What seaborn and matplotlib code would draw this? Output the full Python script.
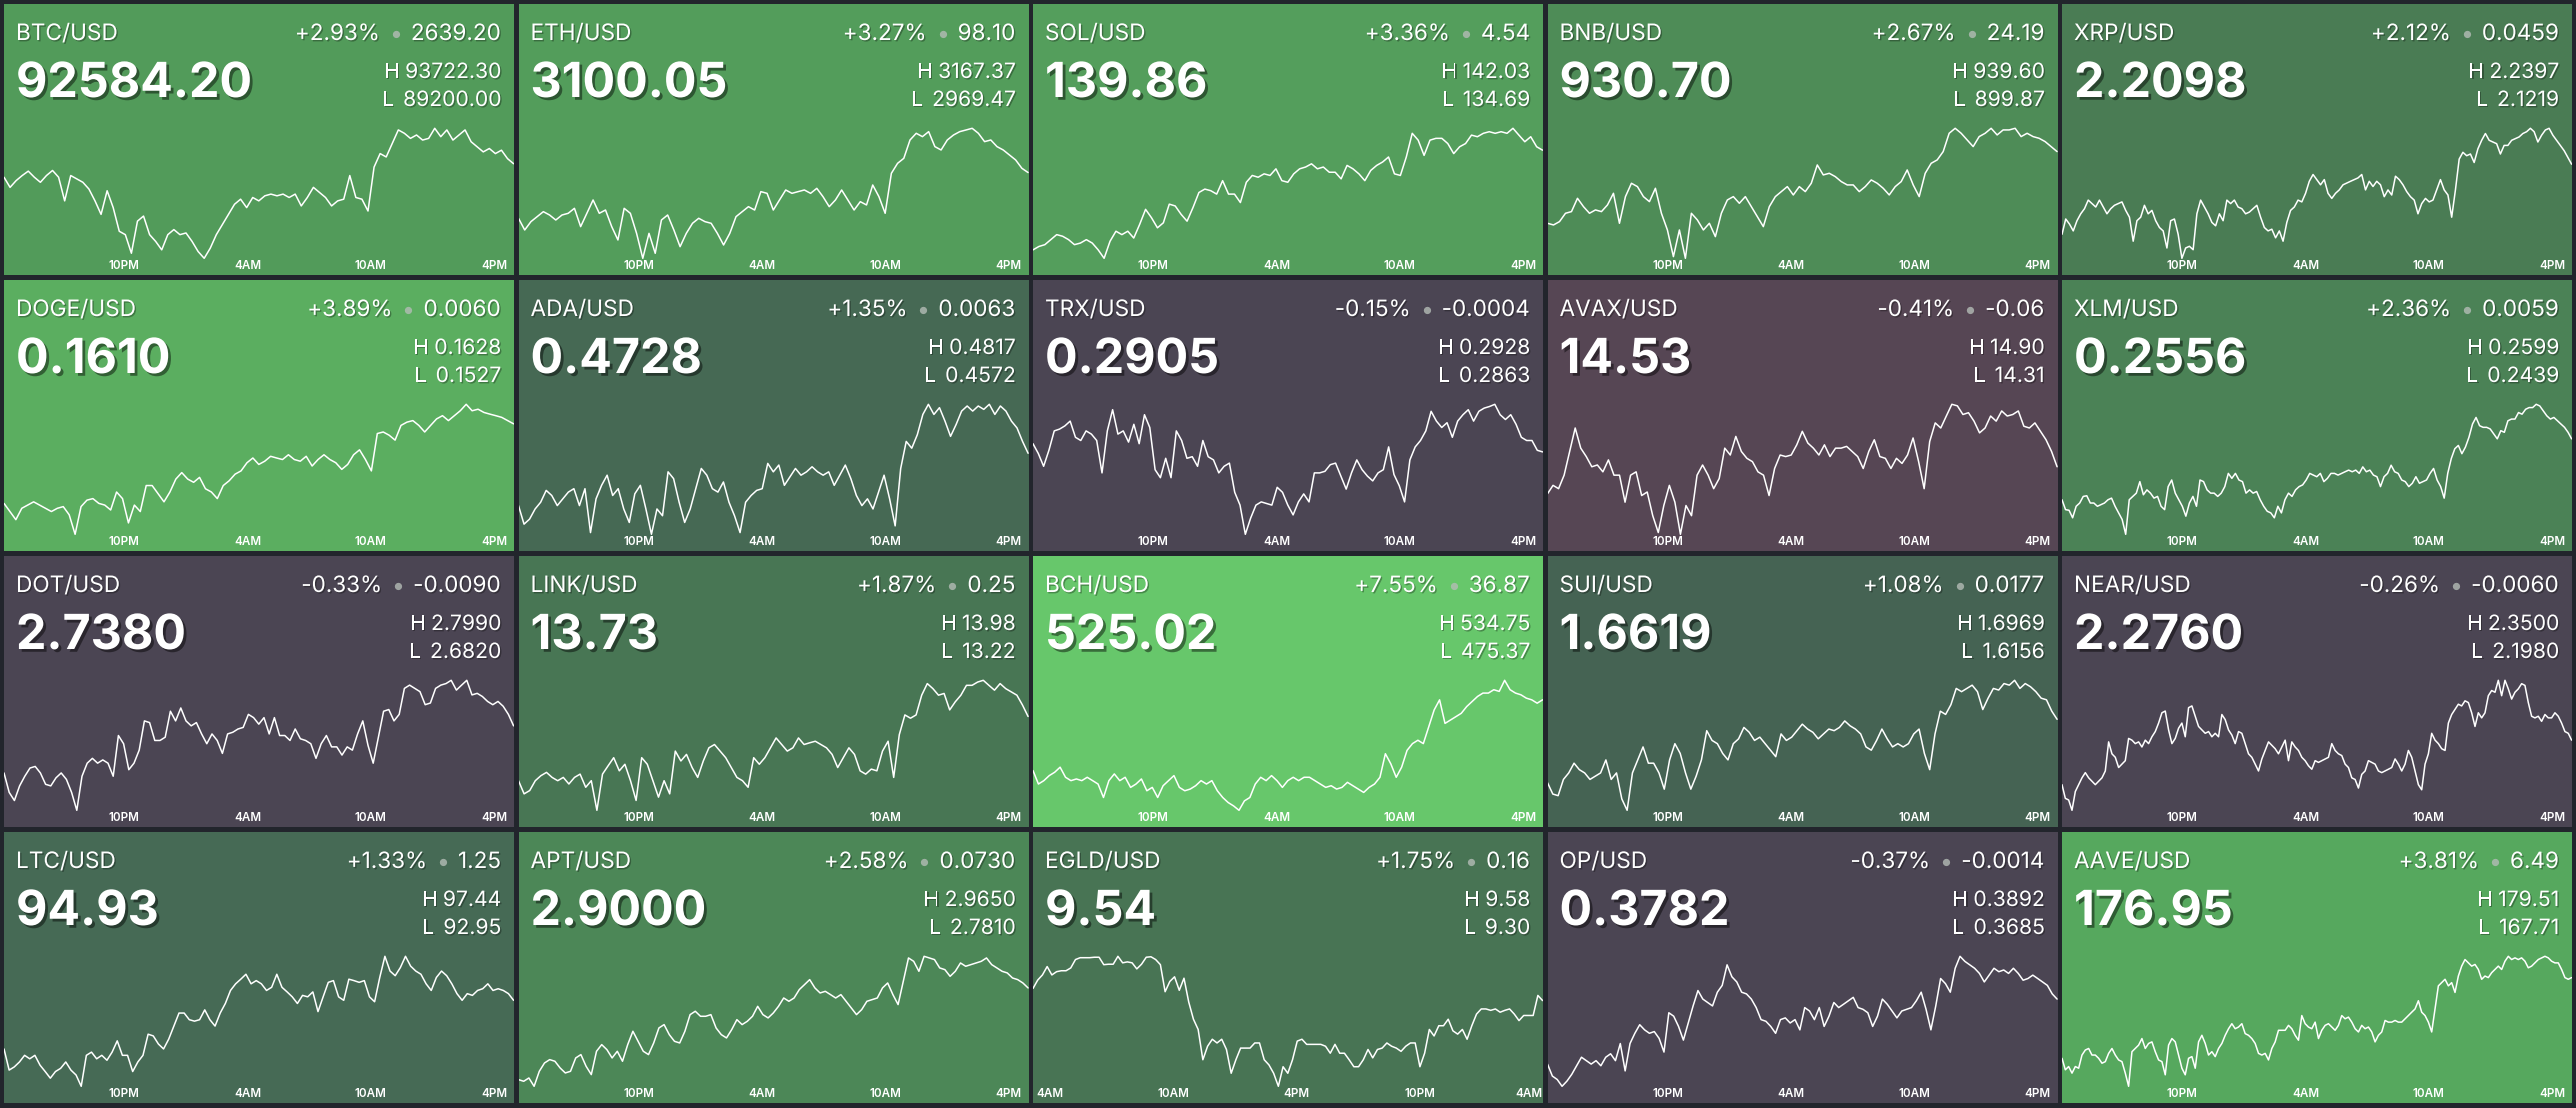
import matplotlib
matplotlib.use("Agg")
import matplotlib.pyplot as plt
import matplotlib.patheffects as pe
import numpy as np
import seaborn as sns

# ---- tile header data ----
symbols = ["BTC", "ETH", "SOL", "BNB", "XRP", "DOGE", "ADA", "TRX", "AVAX", "XLM",
           "DOT", "LINK", "BCH", "SUI", "NEAR", "LTC", "APT", "EGLD", "OP", "AAVE"]
last_prices = ["92584.20", "3100.05", "139.86", "930.70", "2.2098", "0.1610", "0.4728", "0.2905", "14.53", "0.2556",
               "2.7380", "13.73", "525.02", "1.6619", "2.2760", "94.93", "2.9000", "9.54", "0.3782", "176.95"]
pct_changes = ["+2.93%", "+3.27%", "+3.36%", "+2.67%", "+2.12%", "+3.89%", "+1.35%", "-0.15%", "-0.41%", "+2.36%",
               "-0.33%", "+1.87%", "+7.55%", "+1.08%", "-0.26%", "+1.33%", "+2.58%", "+1.75%", "-0.37%", "+3.81%"]
abs_changes = ["2639.20", "98.10", "4.54", "24.19", "0.0459", "0.0060", "0.0063", "-0.0004", "-0.06", "0.0059",
               "-0.0090", "0.25", "36.87", "0.0177", "-0.0060", "1.25", "0.0730", "0.16", "-0.0014", "6.49"]
highs = ["93722.30", "3167.37", "142.03", "939.60", "2.2397", "0.1628", "0.4817", "0.2928", "14.90", "0.2599",
         "2.7990", "13.98", "534.75", "1.6969", "2.3500", "97.44", "2.9650", "9.58", "0.3892", "179.51"]
lows = ["89200.00", "2969.47", "134.69", "899.87", "2.1219", "0.1527", "0.4572", "0.2863", "14.31", "0.2439",
        "2.6820", "13.22", "475.37", "1.6156", "2.1980", "92.95", "2.7810", "9.30", "0.3685", "167.71"]

# time windows (hours) and tick labels
day_window = (-5.86, 18.97)          # hours after 10PM
day_ticks = [0, 6, 12, 18]
day_tick_labels = ["10PM", "4AM", "10AM", "4PM"]
egld_window = (-0.85, 24.02)         # hours after 4AM
egld_ticks = [0, 6, 12, 18, 24]
egld_tick_labels = ["4AM", "10AM", "4PM", "10PM", "4AM"]

# ---- sparkline prices ----
btc_prices = [92042, 91694, 91926, 92100, 92251, 92042, 91868, 92100, 92274, 92042, 91230, 92100, 91984, 91868,
              91636, 91230, 90766, 91578, 90998, 90186, 90070, 89432, 90534, 90708, 90070, 89838, 89548, 90070,
              90244, 90070, 90128, 89838, 89490, 89258, 89606, 90070, 90418, 90766, 91114, 91288, 90998, 91346,
              91230, 91404, 91462, 91404, 91462, 91346, 91462, 91056, 91346, 91694, 91520, 91346, 91056, 91230,
              91288, 92100, 91346, 91288, 90882, 92390, 92854, 92738, 93202, 93666, 93550, 93376, 93492, 93318,
              93376, 93722, 93434, 93666, 93318, 93492, 93666, 93260, 93086, 92912, 93028, 92854, 92970, 92680, 92506]
eth_prices = [3030.4, 3012.6, 3025.3, 3032.9, 3040.5, 3035.4, 3027.8, 3035.4, 3038.0, 3045.6, 3017.7, 3038.0, 3058.3,
              3038.0, 3043.0, 3017.7, 2997.4, 3045.6, 3038.0, 3007.5, 2969.5, 3007.5, 2977.1, 3027.8, 3035.4, 3012.6,
              2987.2, 3007.5, 3022.8, 3030.4, 3025.3, 3022.8, 3007.5, 2989.8, 3007.5, 3032.9, 3040.5, 3048.1, 3043.0,
              3071.0, 3068.4, 3043.0, 3058.3, 3073.5, 3068.4, 3071.0, 3073.5, 3068.4, 3076.0, 3063.3, 3048.1, 3058.3,
              3073.5, 3058.3, 3043.0, 3055.7, 3050.7, 3081.1, 3063.3, 3038.0, 3098.9, 3114.1, 3121.7, 3149.6, 3159.8,
              3154.7, 3162.3, 3139.5, 3134.4, 3149.6, 3157.2, 3162.3, 3164.8, 3167.4, 3159.8, 3147.1, 3149.6, 3139.5,
              3134.4, 3126.8, 3119.2, 3106.5, 3100.05]
sol_prices = [135.25, 135.44, 135.54, 135.82, 136.10, 136.01, 135.82, 135.54, 135.63, 135.82, 135.63, 135.25, 134.78,
              135.73, 136.29, 136.10, 136.29, 135.91, 136.67, 137.51, 137.04, 136.48, 136.76, 137.80, 137.70, 137.23,
              136.85, 137.61, 138.45, 138.64, 138.55, 138.36, 139.11, 138.36, 138.36, 137.89, 139.02, 139.40, 139.30,
              139.49, 139.40, 139.77, 139.11, 139.02, 139.49, 139.77, 139.87, 140.05, 139.77, 139.87, 139.58, 139.58,
              139.21, 139.96, 139.77, 139.49, 139.11, 139.68, 139.96, 140.15, 140.43, 139.49, 139.40, 140.43, 141.75,
              141.37, 140.52, 141.37, 141.47, 141.47, 141.18, 140.62, 141.00, 141.18, 141.65, 141.56, 141.75, 141.84,
              141.75, 141.84, 141.75, 142.03, 141.65, 141.28, 141.56, 141.00, 140.81]
bnb_prices = [910.57, 910.06, 911.08, 913.63, 914.14, 918.21, 915.66, 913.63, 914.65, 914.14, 916.17, 919.74, 910.57,
              918.72, 922.80, 921.78, 918.72, 917.19, 921.27, 913.63, 908.53, 900.38, 908.53, 899.87, 913.63, 911.59,
              908.53, 910.57, 906.49, 913.63, 917.70, 918.72, 916.68, 918.72, 915.66, 912.61, 909.55, 915.66, 918.72,
              920.25, 921.78, 919.23, 921.78, 920.25, 922.80, 928.40, 925.35, 925.85, 924.84, 923.31, 922.29, 922.29,
              920.25, 921.78, 923.82, 922.80, 921.27, 919.23, 921.78, 923.31, 926.87, 922.29, 918.72, 925.85, 928.91,
              929.93, 932.48, 938.08, 939.60, 938.08, 936.04, 934.01, 937.06, 938.08, 939.60, 937.57, 939.10, 939.10,
              939.60, 937.06, 938.08, 937.06, 936.55, 935.54, 934.01, 932.48]
xrp_prices = [2.1446, 2.1581, 2.1536, 2.1476, 2.1566, 2.1627, 2.1672, 2.1748, 2.1717, 2.1687, 2.1748, 2.1687, 2.1627,
              2.1672, 2.1702, 2.1717, 2.1732, 2.1657, 2.1597, 2.1385, 2.1566, 2.1597, 2.1702, 2.1627, 2.1657, 2.1566,
              2.1506, 2.1476, 2.1325, 2.1566, 2.1581, 2.1446, 2.1234, 2.1325, 2.1340, 2.1310, 2.1627, 2.1748, 2.1687,
              2.1627, 2.1551, 2.1521, 2.1627, 2.1566, 2.1748, 2.1717, 2.1748, 2.1687, 2.1672, 2.1627, 2.1642, 2.1672,
              2.1702, 2.1597, 2.1506, 2.1476, 2.1491, 2.1415, 2.1476, 2.1385, 2.1551, 2.1657, 2.1687, 2.1748, 2.1732,
              2.1808, 2.1914, 2.1974, 2.1929, 2.1883, 2.1929, 2.1808, 2.1763, 2.1808, 2.1838, 2.1883, 2.1899, 2.1914,
              2.1929, 2.1944, 2.1974, 2.1838, 2.1914, 2.1868, 2.1914, 2.1883, 2.1778, 2.1838, 2.1793, 2.1959, 2.1929,
              2.1883, 2.1823, 2.1778, 2.1748, 2.1627, 2.1717, 2.1763, 2.1732, 2.1748, 2.1838, 2.1929, 2.1838, 2.1793,
              2.1597, 2.1838, 2.2110, 2.2170, 2.2140, 2.2155, 2.2080, 2.2201, 2.2276, 2.2336, 2.2276, 2.2261, 2.2246,
              2.2155, 2.2231, 2.2231, 2.2276, 2.2291, 2.2306, 2.2336, 2.2352, 2.2382, 2.2352, 2.2261, 2.2321, 2.2367,
              2.2382, 2.2321, 2.2276, 2.2231, 2.2185, 2.2125, 2.2065]
doge_prices = [0.15509, 0.15446, 0.15383, 0.15471, 0.15496, 0.15521, 0.15496, 0.15471, 0.15446, 0.15471, 0.15484,
               0.15421, 0.15270, 0.15484, 0.15534, 0.15546, 0.15509, 0.15496, 0.15458, 0.15597, 0.15546, 0.15358,
               0.15496, 0.15446, 0.15647, 0.15647, 0.15584, 0.15521, 0.15597, 0.15697, 0.15747, 0.15697, 0.15672,
               0.15710, 0.15622, 0.15597, 0.15546, 0.15647, 0.15684, 0.15735, 0.15760, 0.15823, 0.15860, 0.15810,
               0.15835, 0.15873, 0.15860, 0.15848, 0.15885, 0.15848, 0.15835, 0.15873, 0.15798, 0.15848, 0.15885,
               0.15848, 0.15823, 0.15772, 0.15810, 0.15885, 0.15923, 0.15848, 0.15760, 0.16049, 0.16061, 0.16036,
               0.15998, 0.16112, 0.16137, 0.16149, 0.16112, 0.16061, 0.16112, 0.16162, 0.16187, 0.16149, 0.16187,
               0.16225, 0.16275, 0.16225, 0.16237, 0.16212, 0.16199, 0.16187, 0.16174, 0.16149, 0.16124]
ada_prices = [0.46258, 0.45910, 0.46005, 0.46195, 0.46321, 0.46543, 0.46448, 0.46258, 0.46385, 0.46511, 0.46575,
              0.46258, 0.46575, 0.45752, 0.46385, 0.46638, 0.46828, 0.46448, 0.46575, 0.46195, 0.45942, 0.46480,
              0.46638, 0.46195, 0.45720, 0.46195, 0.46068, 0.46891, 0.46764, 0.46321, 0.45942, 0.46195, 0.46575,
              0.46954, 0.46828, 0.46575, 0.46511, 0.46701, 0.46321, 0.46068, 0.45752, 0.46321, 0.46448, 0.46543,
              0.46575, 0.47049, 0.46891, 0.47018, 0.46638, 0.46796, 0.46954, 0.46828, 0.46891, 0.46986, 0.46891,
              0.46828, 0.46891, 0.46638, 0.46828, 0.47018, 0.46764, 0.46448, 0.46258, 0.46385, 0.46195, 0.46511,
              0.46828, 0.46385, 0.45878, 0.46954, 0.47461, 0.47334, 0.47587, 0.47967, 0.48157, 0.47967, 0.48094,
              0.47841, 0.47556, 0.47777, 0.48030, 0.48125, 0.48030, 0.48125, 0.48062, 0.48157, 0.47967, 0.48125,
              0.48030, 0.47841, 0.47714, 0.47461, 0.47239]
trx_prices = [0.29083, 0.29034, 0.28970, 0.29050, 0.29147, 0.29156, 0.29172, 0.29196, 0.29115, 0.29099, 0.29147,
              0.29131, 0.29099, 0.28937, 0.29147, 0.29253, 0.29131, 0.29147, 0.29091, 0.29180, 0.29083, 0.29228,
              0.29164, 0.28953, 0.28913, 0.29010, 0.28913, 0.29147, 0.29099, 0.29010, 0.29018, 0.28970, 0.29099,
              0.29018, 0.29002, 0.28937, 0.28970, 0.28986, 0.28840, 0.28776, 0.28630, 0.28711, 0.28776, 0.28792,
              0.28784, 0.28776, 0.28865, 0.28840, 0.28776, 0.28727, 0.28792, 0.28832, 0.28792, 0.28937, 0.28937,
              0.28945, 0.28978, 0.28986, 0.28921, 0.28856, 0.28937, 0.29002, 0.28953, 0.28921, 0.28897, 0.28937,
              0.28953, 0.29067, 0.28929, 0.28873, 0.28792, 0.29002, 0.29067, 0.29099, 0.29147, 0.29245, 0.29196,
              0.29164, 0.29188, 0.29115, 0.29196, 0.29228, 0.29253, 0.29196, 0.29245, 0.29261, 0.29269, 0.29280,
              0.29228, 0.29204, 0.29228, 0.29180, 0.29115, 0.29099, 0.29099, 0.29050, 0.29042]
avax_prices = [14.493, 14.531, 14.516, 14.577, 14.684, 14.790, 14.699, 14.661, 14.615, 14.623, 14.592, 14.646, 14.577,
               14.577, 14.455, 14.577, 14.592, 14.485, 14.501, 14.394, 14.318, 14.440, 14.531, 14.455, 14.310, 14.440,
               14.394, 14.577, 14.623, 14.577, 14.516, 14.562, 14.699, 14.668, 14.752, 14.684, 14.653, 14.638, 14.592,
               14.577, 14.485, 14.607, 14.668, 14.661, 14.668, 14.714, 14.775, 14.722, 14.699, 14.668, 14.714, 14.661,
               14.699, 14.699, 14.707, 14.684, 14.661, 14.607, 14.684, 14.737, 14.661, 14.653, 14.607, 14.653, 14.630,
               14.668, 14.745, 14.638, 14.516, 14.729, 14.813, 14.790, 14.844, 14.897, 14.890, 14.851, 14.859, 14.821,
               14.768, 14.790, 14.844, 14.821, 14.867, 14.844, 14.851, 14.867, 14.798, 14.790, 14.813, 14.775, 14.737,
               14.684, 14.615]
xlm_prices = [0.24813, 0.24692, 0.24684, 0.24592, 0.24733, 0.24773, 0.24854, 0.24862, 0.24773, 0.24773, 0.24733,
              0.24753, 0.24773, 0.24813, 0.24833, 0.24733, 0.24652, 0.24571, 0.24390, 0.24813, 0.24854, 0.24894,
              0.25035, 0.24874, 0.24934, 0.24894, 0.24833, 0.24854, 0.24733, 0.24692, 0.24974, 0.25055, 0.24894,
              0.24813, 0.24733, 0.24612, 0.24773, 0.24854, 0.24733, 0.25055, 0.25035, 0.24934, 0.24894, 0.24894,
              0.24854, 0.24894, 0.24974, 0.25136, 0.25075, 0.25136, 0.25055, 0.25035, 0.24894, 0.24934, 0.24894,
              0.24914, 0.24813, 0.24733, 0.24672, 0.24652, 0.24592, 0.24733, 0.24652, 0.24813, 0.24894, 0.24854,
              0.24934, 0.24974, 0.24995, 0.25055, 0.25136, 0.25115, 0.25095, 0.25136, 0.25035, 0.25075, 0.25136,
              0.25136, 0.25115, 0.25136, 0.25156, 0.25176, 0.25156, 0.25176, 0.25136, 0.25216, 0.25156, 0.25176,
              0.25115, 0.25095, 0.24974, 0.25095, 0.25136, 0.25236, 0.25156, 0.25136, 0.25055, 0.25035, 0.24974,
              0.25015, 0.25095, 0.25015, 0.25035, 0.25055, 0.25136, 0.25196, 0.25055, 0.24974, 0.24833, 0.25136,
              0.25317, 0.25438, 0.25478, 0.25377, 0.25458, 0.25579, 0.25740, 0.25821, 0.25720, 0.25700, 0.25700,
              0.25680, 0.25619, 0.25559, 0.25659, 0.25639, 0.25780, 0.25801, 0.25801, 0.25881, 0.25861, 0.25921,
              0.25942, 0.25942, 0.25982, 0.25962, 0.25901, 0.25841, 0.25801, 0.25821, 0.25780, 0.25740, 0.25700,
              0.25639, 0.25559]
dot_prices = [2.7152, 2.6979, 2.6907, 2.7037, 2.7123, 2.7196, 2.7210, 2.7152, 2.7051, 2.7037, 2.7109, 2.7152, 2.7095,
              2.6979, 2.6820, 2.7123, 2.7239, 2.7282, 2.7239, 2.7268, 2.7239, 2.7123, 2.7485, 2.7412, 2.7181, 2.7239,
              2.7355, 2.7615, 2.7600, 2.7441, 2.7441, 2.7470, 2.7701, 2.7615, 2.7730, 2.7615, 2.7571, 2.7600, 2.7499,
              2.7412, 2.7499, 2.7441, 2.7326, 2.7499, 2.7514, 2.7543, 2.7557, 2.7673, 2.7644, 2.7586, 2.7644, 2.7499,
              2.7644, 2.7485, 2.7485, 2.7441, 2.7543, 2.7456, 2.7441, 2.7412, 2.7282, 2.7412, 2.7485, 2.7384, 2.7384,
              2.7311, 2.7384, 2.7355, 2.7499, 2.7615, 2.7398, 2.7239, 2.7470, 2.7701, 2.7716, 2.7615, 2.7673, 2.7904,
              2.7933, 2.7904, 2.7875, 2.7759, 2.7774, 2.7904, 2.7933, 2.7947, 2.7976, 2.7889, 2.7933, 2.7976, 2.7846,
              2.7860, 2.7832, 2.7788, 2.7759, 2.7788, 2.7745, 2.7673, 2.7571]
link_prices = [13.391, 13.315, 13.334, 13.391, 13.420, 13.439, 13.410, 13.391, 13.410, 13.372, 13.410, 13.429, 13.353,
               13.391, 13.220, 13.429, 13.477, 13.524, 13.448, 13.486, 13.391, 13.277, 13.524, 13.486, 13.391, 13.296,
               13.391, 13.315, 13.562, 13.505, 13.543, 13.467, 13.410, 13.505, 13.581, 13.600, 13.562, 13.524, 13.467,
               13.410, 13.391, 13.353, 13.524, 13.486, 13.524, 13.581, 13.638, 13.600, 13.562, 13.581, 13.638, 13.600,
               13.610, 13.619, 13.600, 13.581, 13.543, 13.467, 13.524, 13.581, 13.543, 13.448, 13.429, 13.458, 13.448,
               13.562, 13.619, 13.410, 13.657, 13.771, 13.752, 13.771, 13.885, 13.952, 13.923, 13.885, 13.895, 13.800,
               13.847, 13.885, 13.942, 13.942, 13.961, 13.971, 13.942, 13.914, 13.952, 13.923, 13.904, 13.885, 13.828,
               13.762]
bch_prices = [493.65, 487.55, 489.08, 491.36, 492.88, 495.17, 490.60, 489.08, 489.84, 489.08, 490.60, 489.08, 487.55,
              481.46, 489.08, 492.12, 489.08, 490.60, 486.03, 487.55, 489.84, 484.51, 486.03, 481.46, 486.79, 489.08,
              491.36, 486.03, 484.51, 485.27, 486.79, 489.08, 487.55, 489.08, 484.51, 481.46, 479.18, 477.65, 475.67,
              479.94, 481.46, 487.55, 490.60, 489.08, 491.36, 489.08, 486.03, 489.08, 490.60, 489.08, 490.60, 490.60,
              489.08, 487.55, 486.03, 486.79, 485.27, 486.03, 488.32, 486.79, 485.27, 483.75, 486.03, 487.55, 490.60,
              501.26, 496.69, 490.60, 495.17, 502.78, 505.83, 507.35, 505.83, 513.45, 521.06, 525.63, 514.97, 516.49,
              518.01, 519.54, 522.58, 524.87, 527.15, 528.68, 528.68, 530.20, 529.44, 534.46, 530.20, 528.68, 527.91,
              526.39, 525.63, 524.11, 525.63]
sui_prices = [1.63266, 1.62564, 1.62463, 1.63467, 1.63868, 1.64470, 1.64069, 1.63868, 1.63467, 1.63667, 1.63868,
              1.64671, 1.63467, 1.63868, 1.62262, 1.61560, 1.63868, 1.64671, 1.65474, 1.64470, 1.64470, 1.63868,
              1.62865, 1.64671, 1.65674, 1.65072, 1.63868, 1.62865, 1.63667, 1.64671, 1.66477, 1.65875, 1.65674,
              1.65072, 1.64671, 1.65674, 1.65975, 1.66678, 1.66377, 1.65875, 1.66076, 1.65674, 1.65273, 1.64872,
              1.66276, 1.65875, 1.66076, 1.66477, 1.66879, 1.66578, 1.66377, 1.65975, 1.66276, 1.66578, 1.66477,
              1.66678, 1.67079, 1.66778, 1.66578, 1.66276, 1.65474, 1.65273, 1.65875, 1.66578, 1.65975, 1.65474,
              1.65674, 1.65474, 1.65674, 1.66276, 1.66578, 1.65072, 1.64069, 1.66276, 1.67681, 1.67481, 1.68083,
              1.69086, 1.68886, 1.69086, 1.69287, 1.68886, 1.67782, 1.68484, 1.69086, 1.68986, 1.69387, 1.69287,
              1.69588, 1.69086, 1.69387, 1.69187, 1.68886, 1.68484, 1.68384, 1.67681, 1.67180]
near_prices = [2.2276, 2.2118, 2.2099, 2.1980, 2.2197, 2.2276, 2.2355, 2.2415, 2.2355, 2.2316, 2.2276, 2.2316, 2.2355,
               2.2434, 2.2770, 2.2632, 2.2592, 2.2474, 2.2513, 2.2553, 2.2810, 2.2790, 2.2750, 2.2770, 2.2711, 2.2790,
               2.2750, 2.2829, 2.2889, 2.2987, 2.3106, 2.3126, 2.2908, 2.2750, 2.2810, 2.2928, 2.2987, 2.2829, 2.3165,
               2.3185, 2.3066, 2.2948, 2.2908, 2.2869, 2.2889, 2.2829, 2.2869, 2.2829, 2.3086, 2.3027, 2.2908, 2.2849,
               2.2750, 2.2889, 2.2869, 2.2750, 2.2632, 2.2592, 2.2513, 2.2434, 2.2573, 2.2671, 2.2770, 2.2731, 2.2691,
               2.2632, 2.2711, 2.2790, 2.2553, 2.2770, 2.2711, 2.2671, 2.2592, 2.2553, 2.2494, 2.2454, 2.2553, 2.2533,
               2.2553, 2.2573, 2.2592, 2.2750, 2.2671, 2.2632, 2.2612, 2.2513, 2.2474, 2.2355, 2.2336, 2.2237, 2.2395,
               2.2434, 2.2553, 2.2533, 2.2513, 2.2434, 2.2415, 2.2434, 2.2454, 2.2474, 2.2573, 2.2513, 2.2434, 2.2513,
               2.2671, 2.2592, 2.2434, 2.2276, 2.2217, 2.2513, 2.2632, 2.2869, 2.2790, 2.2750, 2.2691, 2.2671, 2.2987,
               2.3086, 2.3145, 2.3205, 2.3185, 2.3244, 2.3224, 2.3106, 2.2948, 2.3106, 2.3047, 2.3106, 2.3303, 2.3363,
               2.3343, 2.3481, 2.3303, 2.3481, 2.3382, 2.3264, 2.3343, 2.3382, 2.3442, 2.3422, 2.3224, 2.3066, 2.3047,
               2.3066, 2.3007, 2.3086, 2.3047, 2.3047, 2.3106, 2.3066, 2.2987, 2.2889, 2.2869, 2.2790]
ltc_prices = [94.24, 93.51, 93.62, 93.79, 94.02, 93.90, 94.02, 93.68, 93.46, 93.23, 93.46, 93.57, 93.79, 93.51, 93.34,
              92.95, 94.02, 94.13, 93.90, 94.02, 93.85, 94.13, 94.52, 94.02, 94.02, 93.46, 93.79, 94.02, 94.75, 94.69,
              94.41, 94.24, 94.58, 95.03, 95.48, 95.48, 95.25, 95.20, 95.25, 95.59, 95.25, 95.03, 95.48, 95.81, 96.26,
              96.49, 96.65, 96.82, 96.49, 96.60, 96.49, 96.26, 96.37, 96.82, 96.37, 96.21, 96.04, 95.81, 96.09, 96.04,
              96.21, 95.53, 96.04, 96.54, 96.60, 96.04, 95.92, 96.65, 96.60, 96.54, 96.60, 96.04, 95.87, 96.71, 97.44,
              96.93, 96.77, 97.05, 97.44, 97.10, 96.93, 96.82, 96.49, 96.26, 96.71, 96.93, 96.77, 96.49, 96.15, 95.92,
              96.15, 96.09, 96.26, 96.32, 96.49, 96.26, 96.32, 96.26, 96.15, 95.92]
apt_prices = [2.7926, 2.7903, 2.7949, 2.7833, 2.8042, 2.8158, 2.8205, 2.8182, 2.8089, 2.8019, 2.8042, 2.8228, 2.8275,
              2.8112, 2.7996, 2.8321, 2.8414, 2.8344, 2.8228, 2.8321, 2.8182, 2.8414, 2.8600, 2.8460, 2.8321, 2.8275,
              2.8437, 2.8646, 2.8693, 2.8553, 2.8460, 2.8437, 2.8600, 2.8832, 2.8879, 2.8809, 2.8809, 2.8832, 2.8646,
              2.8553, 2.8507, 2.8623, 2.8762, 2.8693, 2.8739, 2.8809, 2.8948, 2.8832, 2.8786, 2.8855, 2.8948, 2.9064,
              2.9018, 2.9064, 2.9181, 2.9250, 2.9320, 2.9204, 2.9134, 2.9157, 2.9111, 2.9064, 2.9111, 2.9018, 2.8925,
              2.8832, 2.8902, 2.9018, 2.9041, 2.9064, 2.9204, 2.9273, 2.9111, 2.8972, 2.9297, 2.9622, 2.9575, 2.9436,
              2.9645, 2.9622, 2.9599, 2.9483, 2.9459, 2.9366, 2.9436, 2.9552, 2.9506, 2.9529, 2.9552, 2.9575, 2.9622,
              2.9529, 2.9483, 2.9436, 2.9413, 2.9343, 2.9320, 2.9273, 2.9204]
egld_prices = [9.510, 9.528, 9.539, 9.557, 9.539, 9.546, 9.548, 9.548, 9.554, 9.572, 9.576, 9.576, 9.576, 9.577, 9.577,
               9.561, 9.562, 9.562, 9.579, 9.565, 9.567, 9.565, 9.552, 9.562, 9.577, 9.578, 9.572, 9.561, 9.503, 9.525,
               9.535, 9.506, 9.532, 9.481, 9.444, 9.422, 9.357, 9.386, 9.401, 9.393, 9.401, 9.379, 9.328, 9.357, 9.382,
               9.382, 9.382, 9.393, 9.393, 9.357, 9.346, 9.328, 9.300, 9.342, 9.328, 9.357, 9.397, 9.401, 9.390, 9.390,
               9.390, 9.390, 9.386, 9.371, 9.390, 9.371, 9.371, 9.357, 9.342, 9.342, 9.357, 9.379, 9.361, 9.379, 9.382,
               9.393, 9.386, 9.382, 9.375, 9.386, 9.393, 9.393, 9.342, 9.371, 9.422, 9.408, 9.430, 9.430, 9.444, 9.419,
               9.412, 9.422, 9.401, 9.430, 9.455, 9.466, 9.466, 9.463, 9.466, 9.459, 9.463, 9.466, 9.455, 9.441, 9.452,
               9.452, 9.452, 9.495, 9.484]
op_prices = [0.37226, 0.37038, 0.36984, 0.36877, 0.36958, 0.37065, 0.37200, 0.37334, 0.37280, 0.37226, 0.37280,
             0.37200, 0.37334, 0.37388, 0.37280, 0.37549, 0.37119, 0.37549, 0.37710, 0.37845, 0.37764, 0.37710,
             0.37737, 0.37630, 0.37415, 0.38033, 0.37979, 0.37818, 0.37603, 0.37872, 0.38140, 0.38382, 0.38248,
             0.38194, 0.38140, 0.38356, 0.38463, 0.38786, 0.38598, 0.38517, 0.38356, 0.38329, 0.38248, 0.38114,
             0.37925, 0.37899, 0.37818, 0.37710, 0.37925, 0.37952, 0.37872, 0.37925, 0.37764, 0.38114, 0.38060,
             0.37925, 0.38114, 0.37818, 0.37979, 0.38194, 0.38114, 0.38167, 0.38221, 0.38275, 0.38114, 0.38087,
             0.38033, 0.37818, 0.37979, 0.38248, 0.38167, 0.38060, 0.37952, 0.38060, 0.38087, 0.38114, 0.38221,
             0.38356, 0.38087, 0.37764, 0.38140, 0.38571, 0.38490, 0.38356, 0.38732, 0.38920, 0.38840, 0.38786,
             0.38732, 0.38651, 0.38517, 0.38624, 0.38732, 0.38678, 0.38705, 0.38651, 0.38732, 0.38651, 0.38544,
             0.38571, 0.38624, 0.38571, 0.38517, 0.38463, 0.38329, 0.38248]
aave_prices = [170.22, 169.19, 169.48, 168.89, 169.48, 169.33, 170.51, 170.96, 171.10, 170.51, 170.51, 170.22, 169.78,
               169.92, 170.66, 171.10, 170.51, 170.07, 169.92, 168.89, 167.71, 170.81, 171.10, 171.40, 171.99, 171.10,
               171.55, 171.69, 170.81, 170.07, 169.92, 168.74, 171.40, 171.99, 171.69, 170.51, 169.33, 168.74, 170.22,
               170.37, 169.33, 171.69, 172.28, 171.55, 170.51, 170.81, 170.37, 171.10, 171.55, 172.28, 172.87, 173.32,
               172.87, 173.02, 173.32, 172.43, 172.28, 171.99, 171.55, 170.66, 170.51, 170.66, 170.07, 171.10, 171.69,
               172.73, 172.73, 172.73, 173.17, 172.87, 172.28, 171.84, 174.05, 173.32, 173.02, 172.87, 173.46, 171.99,
               172.73, 173.17, 173.32, 173.02, 172.73, 173.17, 174.05, 173.76, 173.91, 173.46, 172.87, 172.58, 173.17,
               172.87, 173.02, 172.58, 171.69, 172.28, 172.58, 173.61, 173.46, 173.46, 173.61, 173.46, 173.46, 173.76,
               174.05, 174.35, 174.64, 175.38, 174.35, 174.05, 173.46, 172.58, 174.64, 176.71, 177.00, 177.30, 176.71,
               177.00, 176.12, 177.59, 178.48, 179.07, 178.77, 178.48, 178.63, 178.18, 177.30, 177.59, 177.45, 177.89,
               178.18, 178.48, 178.18, 178.92, 179.36, 179.07, 179.22, 179.07, 179.22, 178.92, 178.33, 178.48, 178.77,
               179.07, 179.22, 179.36, 179.22, 178.92, 178.77, 178.77, 178.18, 177.45, 177.30, 177.45]

series = [btc_prices, eth_prices, sol_prices, bnb_prices, xrp_prices, doge_prices, ada_prices, trx_prices,
          avax_prices, xlm_prices, dot_prices, link_prices, bch_prices, sui_prices, near_prices, ltc_prices,
          apt_prices, egld_prices, op_prices, aave_prices]

# tile background colours (green/mauve by size of move)
tile_colors = ["#529b5a", "#539d5b", "#549e5c", "#4e8c57", "#4a7c54",
               "#5bae60", "#466954", "#4b4553", "#564654", "#4b8256",
               "#4b4553", "#487654", "#67c76b", "#456353", "#4b4553",
               "#466a55", "#4c8757", "#487454", "#4b4553", "#56a85e"]

FIG_W, FIG_H = 2576, 1108
TILE_W, TILE_H = 510, 271


def frac_rect(x, y, w, h):
    return [x / FIG_W, 1 - (y + h) / FIG_H, w / FIG_W, h / FIG_H]


sns.set_theme(style="dark")
plt.rcParams["font.family"] = ["Inter", "DejaVu Sans"]

fig = plt.figure(figsize=(FIG_W / 100, FIG_H / 100), dpi=100, facecolor="#22252c")

small_shadow = [pe.SimplePatchShadow(offset=(1.0, -1.0), shadow_rgbFace="black", alpha=0.3), pe.Normal()]
big_shadow = [pe.SimplePatchShadow(offset=(2.0, -2.0), shadow_rgbFace="black", alpha=0.45), pe.Normal()]

for i, sym in enumerate(symbols):
    row, col = divmod(i, 5)
    tx = 4 + col * 514.5
    ty = 4 + row * 276

    # card background + header texts (card coords are pixels, y downwards)
    card = fig.add_axes(frac_rect(tx, ty, TILE_W, TILE_H))
    card.set_facecolor(tile_colors[i])
    card.set_xlim(0, TILE_W)
    card.set_ylim(TILE_H, 0)
    card.set_xticks([])
    card.set_yticks([])
    for s in card.spines.values():
        s.set_visible(False)

    card.text(12, 36, f"{sym}/USD", fontsize=16.3, color="white", va="baseline", path_effects=small_shadow)
    card.text(12, 93, last_prices[i], fontsize=34.8, fontweight="bold", color="white", va="baseline",
              path_effects=big_shadow)

    chg = card.text(497, 36, abs_changes[i], fontsize=16.2, color="white", ha="right", va="baseline",
                    path_effects=small_shadow)
    card.annotate("●", xy=(0, 0.46), xycoords=chg, xytext=(-11, 0), textcoords="offset pixels",
                  ha="right", va="center", fontsize=7, color="#b4bcb6", alpha=0.8)
    card.annotate(pct_changes[i], xy=(0, 0), xycoords=chg, xytext=(-31, 0), textcoords="offset pixels",
                  ha="right", va="bottom", fontsize=16.2, color="white", path_effects=small_shadow)

    for label, value, base in (("H", highs[i], 74), ("L", lows[i], 102)):
        vt = card.text(497, base, value, fontsize=15.2, color="white", ha="right", va="baseline",
                       path_effects=small_shadow)
        card.annotate(label, xy=(0, 0), xycoords=vt, xytext=(-21, 0), textcoords="offset pixels",
                      ha="left", va="bottom", fontsize=15.2, color="white", path_effects=small_shadow)

    # sparkline
    if sym == "EGLD":
        window, ticks, tick_labels = egld_window, egld_ticks, egld_tick_labels
    else:
        window, ticks, tick_labels = day_window, day_ticks, day_tick_labels
    vals = np.array(series[i], dtype=float)
    times = np.linspace(window[0], window[1] - 0.02, len(vals))

    ax = fig.add_axes(frac_rect(tx, ty + 122.3, TILE_W, 134))
    ax.set_facecolor("none")
    sns.lineplot(x=times, y=vals, ax=ax, color="white", linewidth=1.1, sort=False)
    lo, hi = vals.min(), vals.max()
    pad = (hi - lo) * 2 / 130
    ax.set_ylim(lo - pad, hi + pad)
    ax.set_xlim(*window)
    ax.set(xlabel=None, ylabel=None)
    ax.set_yticks([])
    ax.set_xticks(ticks)
    ax.set_xticklabels(tick_labels)
    ax.tick_params(axis="x", length=0, pad=0, labelsize=8.4, labelcolor="white")
    for lbl in ax.get_xticklabels():
        lbl.set_fontweight("semibold")
    if sym == "EGLD":
        ax.get_xticklabels()[-1].set_horizontalalignment("right")
    ax.grid(False)
    for s in ax.spines.values():
        s.set_visible(False)

fig.savefig("out.png", dpi=100, facecolor=fig.get_facecolor())
